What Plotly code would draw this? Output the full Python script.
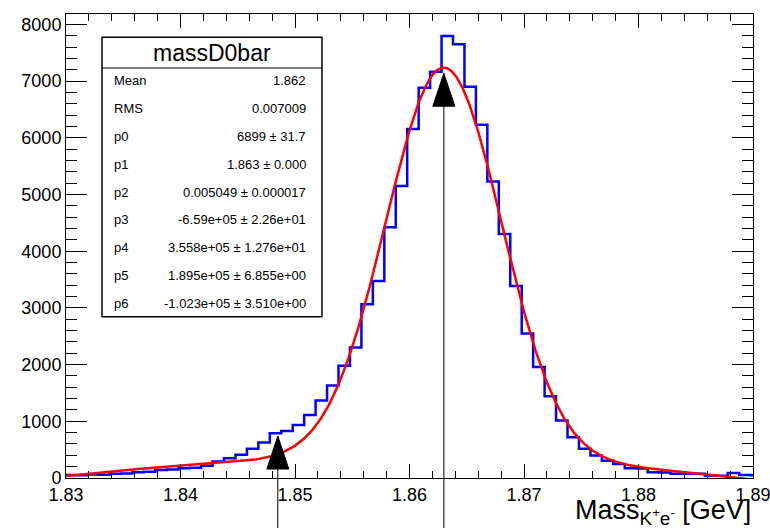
import numpy as np
import plotly.graph_objects as go

# ---- histogram: massD0bar, 0.001 GeV bins ----
BIN_LO = 1.8298
BIN_W = 0.001
counts = [55, 50, 60, 58, 75, 80, 100, 110, 140, 150,
          170, 180, 215, 290, 350, 410, 515, 626, 790, 830,
          935, 1110, 1365, 1630, 1980, 2300, 3065, 3475, 4425, 5150,
          6155, 6885, 7165, 7795, 7650, 6900, 6230, 5230, 4305, 3385,
          2550, 1960, 1440, 1013, 720, 515, 397, 304, 246, 170,
          168, 100, 96, 76, 76, 74, 40, 40, 88, 53,
          50]

# ---- statistics and fit parameters (gaus + pol3) ----
hist_name = "massD0bar"
hist_mean = 1.862
hist_rms = 0.007009
par_names = ["p0", "p1", "p2", "p3", "p4", "p5", "p6"]
par_vals = [6899.0, 1.863, 0.005049, -6.5875e5, 3.558e5, 1.895e5, -1.023e5]
par_errs = [31.7, 0.0, 0.000017, 2.26e1, 1.276e1, 6.855e0, 3.510e0]
par_fmts = ["{:.0f} \u00b1 {:.1f}", "{:.3f} \u00b1 {:.3f}", "{:.6f} \u00b1 {:.6f}",
            "{:.2e} \u00b1 {:.2e}", "{:.3e} \u00b1 {:.3e}", "{:.3e} \u00b1 {:.3e}",
            "{:.3e} \u00b1 {:.3e}"]

# ---- arrow markers (position, tip height) ----
arrow_x = [1.8485, 1.863]
arrow_tip = [740, 7140]

X_RANGE = [1.83, 1.89]
x_ticks = [1.83, 1.84, 1.85, 1.86, 1.87, 1.88, 1.89]
y_ticks = [0, 1000, 2000, 3000, 4000, 5000, 6000, 7000, 8000]
Y_MAX = 1.05 * max(counts)

FONT = "Liberation Sans, Arial, Helvetica, sans-serif"


def fit_func(x, p):
    gaus = p[0] * np.exp(-0.5 * ((x - p[1]) / p[2]) ** 2)
    pol3 = p[3] + p[4] * x + p[5] * x ** 2 + p[6] * x ** 3
    return gaus + pol3


edges = BIN_LO + BIN_W * np.arange(len(counts) + 1)
step_y = list(counts) + [counts[-1]]

fig = go.Figure()
fig.add_trace(go.Scatter(x=edges, y=step_y, mode="lines", line_shape="hv",
                         line=dict(color="#0000ff", width=2.5), hoverinfo="skip"))

xf = np.linspace(X_RANGE[0], X_RANGE[1], 801)
fig.add_trace(go.Scatter(x=xf, y=fit_func(xf, par_vals), mode="lines",
                         line=dict(color="#ff0000", width=2.5), hoverinfo="skip"))

# arrows: thin vertical line from below the axis up to a filled triangle head
for ax_x, tip in zip(arrow_x, arrow_tip):
    fig.add_shape(type="line", xref="x", yref="y", x0=ax_x, x1=ax_x, y0=0, y1=tip,
                  line=dict(color="black", width=1), layer="above")
    fig.add_shape(type="line", xref="x", yref="paper", x0=ax_x, x1=ax_x, y0=-0.2, y1=0,
                  line=dict(color="black", width=1), layer="above")
    fig.add_shape(type="path", xref="x", yref="y", xsizemode="pixel", ysizemode="pixel",
                  xanchor=ax_x, yanchor=tip, path="M0,0 L-11,-33 L11,-33 Z",
                  fillcolor="black", line=dict(color="black", width=1), layer="above")

# ---- stats box ----
BOX_X0, BOX_X1 = 0.0524, 0.3726
BOX_Y0, BOX_Y1 = 0.3476, 0.9498
SEP_Y = 0.8836
fig.add_shape(type="rect", xref="paper", yref="paper", x0=BOX_X0, x1=BOX_X1,
              y0=BOX_Y0, y1=BOX_Y1, line=dict(color="black", width=1.5),
              fillcolor="white", layer="above")
fig.add_shape(type="line", xref="paper", yref="paper", x0=BOX_X0, x1=BOX_X1,
              y0=SEP_Y, y1=SEP_Y, line=dict(color="black", width=1), layer="above")
fig.add_annotation(xref="paper", yref="paper", x=(BOX_X0 + BOX_X1) / 2,
                   y=(SEP_Y + BOX_Y1) / 2, text=hist_name, showarrow=False,
                   xanchor="center", yanchor="middle",
                   font=dict(family=FONT, size=23, color="black"))

row_labels = ["Mean", "RMS"] + par_names
row_values = ["{:.3f}".format(hist_mean), "{:.6f}".format(hist_rms)] + [
    f.format(v, e) for f, v, e in zip(par_fmts, par_vals, par_errs)]
row_top, row_step = 0.8563, 0.06
for i, (lab, val) in enumerate(zip(row_labels, row_values)):
    yy = row_top - i * row_step
    fig.add_annotation(xref="paper", yref="paper", x=0.0665, y=yy, text=lab,
                       showarrow=False, xanchor="left", yanchor="middle",
                       font=dict(family=FONT, size=13, color="black"))
    fig.add_annotation(xref="paper", yref="paper", x=0.3527, y=yy, text=val,
                       showarrow=False, xanchor="right", yanchor="middle",
                       font=dict(family=FONT, size=13, color="black"))

# x-axis title, right aligned at the end of the axis
fig.add_annotation(xref="paper", yref="paper", x=1.0, y=-0.033, xanchor="right",
                   yanchor="top", showarrow=False,
                   text="Mass<sub>K<sup>+</sup>e<sup>-</sup></sub> [GeV]",
                   font=dict(family=FONT, size=27, color="black"))

axis_common = dict(ticks="inside", tickcolor="black", showline=True, linecolor="black",
                   linewidth=1, mirror="ticks", showgrid=False, zeroline=False,
                   automargin=False, ticklabeloverflow="allow",
                   tickfont=dict(family=FONT, size=18, color="black"))
fig.update_xaxes(range=[X_RANGE[0], X_RANGE[1] + 1e-9], tickvals=x_ticks,
                 ticktext=["{:.2f}".format(v) for v in x_ticks],
                 ticklen=14,
                 minor=dict(tick0=1.83, dtick=0.002, ticks="inside", ticklen=7,
                            tickcolor="black", showgrid=False),
                 **axis_common)
fig.update_yaxes(range=[0, Y_MAX], tickvals=y_ticks, ticktext=[str(v) for v in y_ticks],
                 ticklen=21,
                 minor=dict(tick0=0, dtick=200, ticks="inside", ticklen=11,
                            tickcolor="black", showgrid=False),
                 **axis_common)

fig.update_layout(width=770, height=528, margin=dict(l=66, r=17, t=14, b=50, autoexpand=False),
                  plot_bgcolor="white", paper_bgcolor="white", showlegend=False,
                  font=dict(family=FONT, color="black"))

fig.write_html("out.html")
